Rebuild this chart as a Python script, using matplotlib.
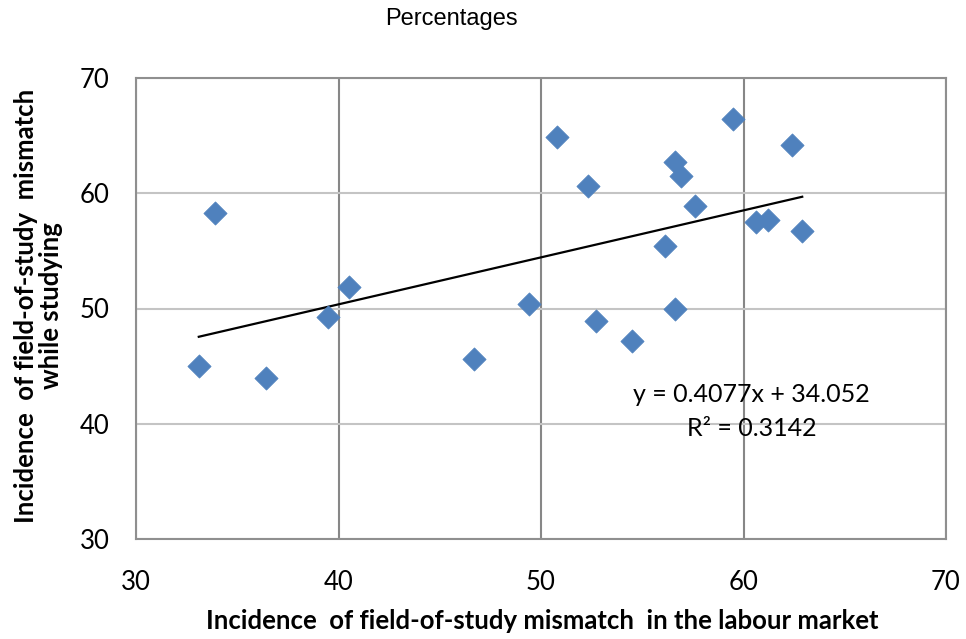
import numpy as np
import matplotlib
matplotlib.use("Agg")
import matplotlib.pyplot as plt

# Data
labour_market = [33.1, 33.9, 36.4, 39.5, 40.5, 46.7, 49.4, 50.8, 52.3, 52.7,
                 54.5, 56.1, 56.6, 56.6, 56.9, 57.6, 59.5, 60.6, 61.2, 62.4, 62.9]
while_studying = [45.0, 58.3, 44.0, 49.3, 51.9, 45.6, 50.4, 64.9, 60.6, 48.9,
                  47.2, 55.4, 50.0, 62.7, 61.5, 58.9, 66.4, 57.5, 57.7, 64.2, 56.7]
slope = 0.4077
intercept = 34.052
r_squared = 0.3142
x_ticks = [30, 40, 50, 60, 70]
y_ticks = [30, 40, 50, 60, 70]

W, H = 966, 639
fig = plt.figure(figsize=(W / 100, H / 100), dpi=100)
ax = fig.add_axes([136 / W, 1 - 539 / H, (946 - 136) / W, (539 - 78) / H])

tick_font = ["Lato", "DejaVu Sans"]

ax.set_xlim(30, 70)
ax.set_ylim(30, 70)
ax.set_xticks(x_ticks)
ax.set_yticks(y_ticks)
ax.tick_params(axis="both", length=0, labelsize=18.5, colors="#000000")
ax.tick_params(axis="x", pad=22)
ax.tick_params(axis="y", pad=19)
for lab in ax.get_xticklabels() + ax.get_yticklabels():
    lab.set_family(tick_font)

ax.xaxis.grid(True, color="#878787", linewidth=1.5)
ax.yaxis.grid(True, color="#c4c4c4", linewidth=1.5)
ax.set_axisbelow(True)
for s in ax.spines.values():
    s.set_color("#8f8f8f")
    s.set_linewidth(1.5)

# trend line
xmin, xmax = min(labour_market), max(labour_market)
xs = np.array([xmin, xmax])
ax.plot(xs, slope * xs + intercept, color="black", linewidth=1.6, zorder=3)

ax.scatter(labour_market, while_studying, marker="D", s=140, color="#4f81bd",
           edgecolors="#4f81bd", linewidths=0.5, zorder=4)

fig.text(751 / W, 1 - 395 / H, f"y = {slope}x + {intercept}", ha="center", va="center",
         fontsize=18, family=tick_font)
fig.text(752 / W, 1 - 428 / H, f"R² = {r_squared}", ha="center", va="center",
         fontsize=18, family=tick_font)

fig.text(451 / W, 1 - 19 / H, "Percentages", ha="center", va="center",
         fontsize=17, family=["Liberation Sans", "DejaVu Sans"])

fig.text(542 / W, 1 - 621 / H, "Incidence  of field-of-study mismatch  in the labour market",
         ha="center", va="center", fontsize=18.5, fontweight="bold", family=tick_font)
fig.text(39 / W, 1 - 306 / H, "Incidence  of field-of-study  mismatch\nwhile studying",
         ha="center", va="center", rotation=90, fontsize=18.5, fontweight="bold",
         family=tick_font, multialignment="center", linespacing=1.05)

fig.savefig("out.png", dpi=100)
